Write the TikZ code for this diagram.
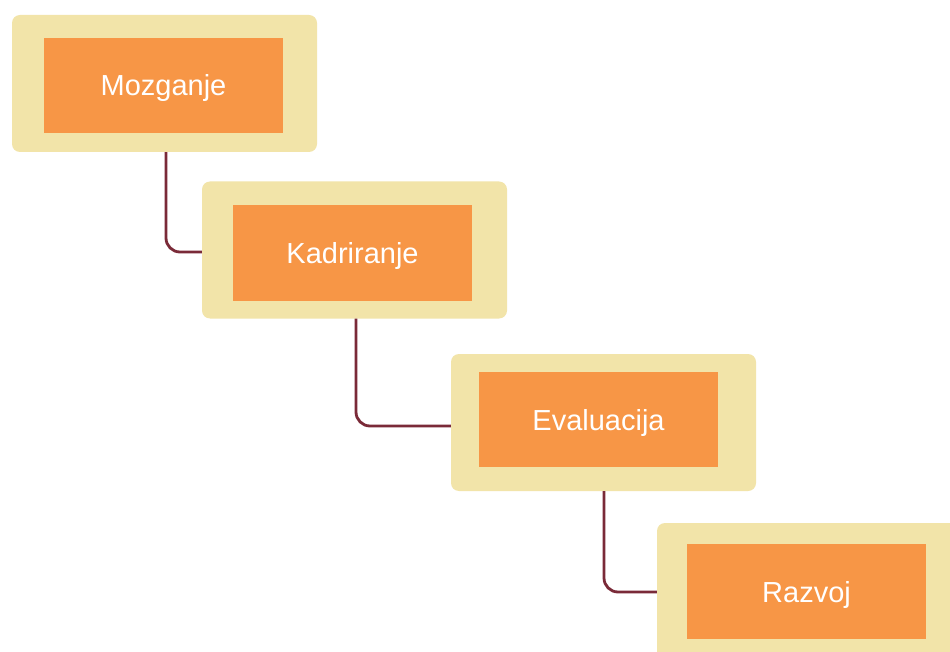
\documentclass[tikz,border=0pt]{standalone}
\usepackage{fontspec}
\setmainfont{Liberation Sans}
\definecolor{outerfill}{HTML}{F2E4A9}
\definecolor{innerfill}{HTML}{F79646}
\definecolor{connclr}{HTML}{7A2A38}
\begin{document}
\begin{tikzpicture}[x=1pt,y=-1pt,
  outerbox/.style={rectangle, rounded corners=8pt, fill=outerfill, minimum width=305pt, minimum height=137pt, inner sep=0pt},
  innerbox/.style={rectangle, fill=innerfill, minimum width=239pt, minimum height=95pt, inner sep=0pt, text=white, text height=21pt, text depth=0pt, font=\fontsize{29}{32}\selectfont},
  conn/.style={draw=connclr, line width=2.8pt, rounded corners=14pt}]
\useasboundingbox (0,0) rectangle (950,652);
\clip (0,0) rectangle (950,652);
\fill[white] (0,0) rectangle (950,652);
\node[outerbox] (o1) at (164.5,83.5) {};
\node[innerbox] (i1) at (163.5,85.5) {Mozganje};
\node[outerbox] (o2) at (354.5,250) {};
\node[innerbox] (i2) at (352.5,253) {Kadriranje};
\node[outerbox] (o3) at (603.5,422.5) {};
\node[innerbox] (i3) at (598.5,419.5) {Evaluacija};
\node[outerbox] (o4) at (809.5,591.5) {};
\node[innerbox] (i4) at (806.5,591.5) {Razvoj};
\draw[conn] ([xshift=1.5pt]o1.south) |- ([yshift=-2pt]o2.west);
\draw[conn] ([xshift=1.5pt]o2.south) |- ([yshift=-3.5pt]o3.west);
\draw[conn] ([xshift=0.5pt]o3.south) |- ([yshift=-0.5pt]o4.west);
\end{tikzpicture}
\end{document}
